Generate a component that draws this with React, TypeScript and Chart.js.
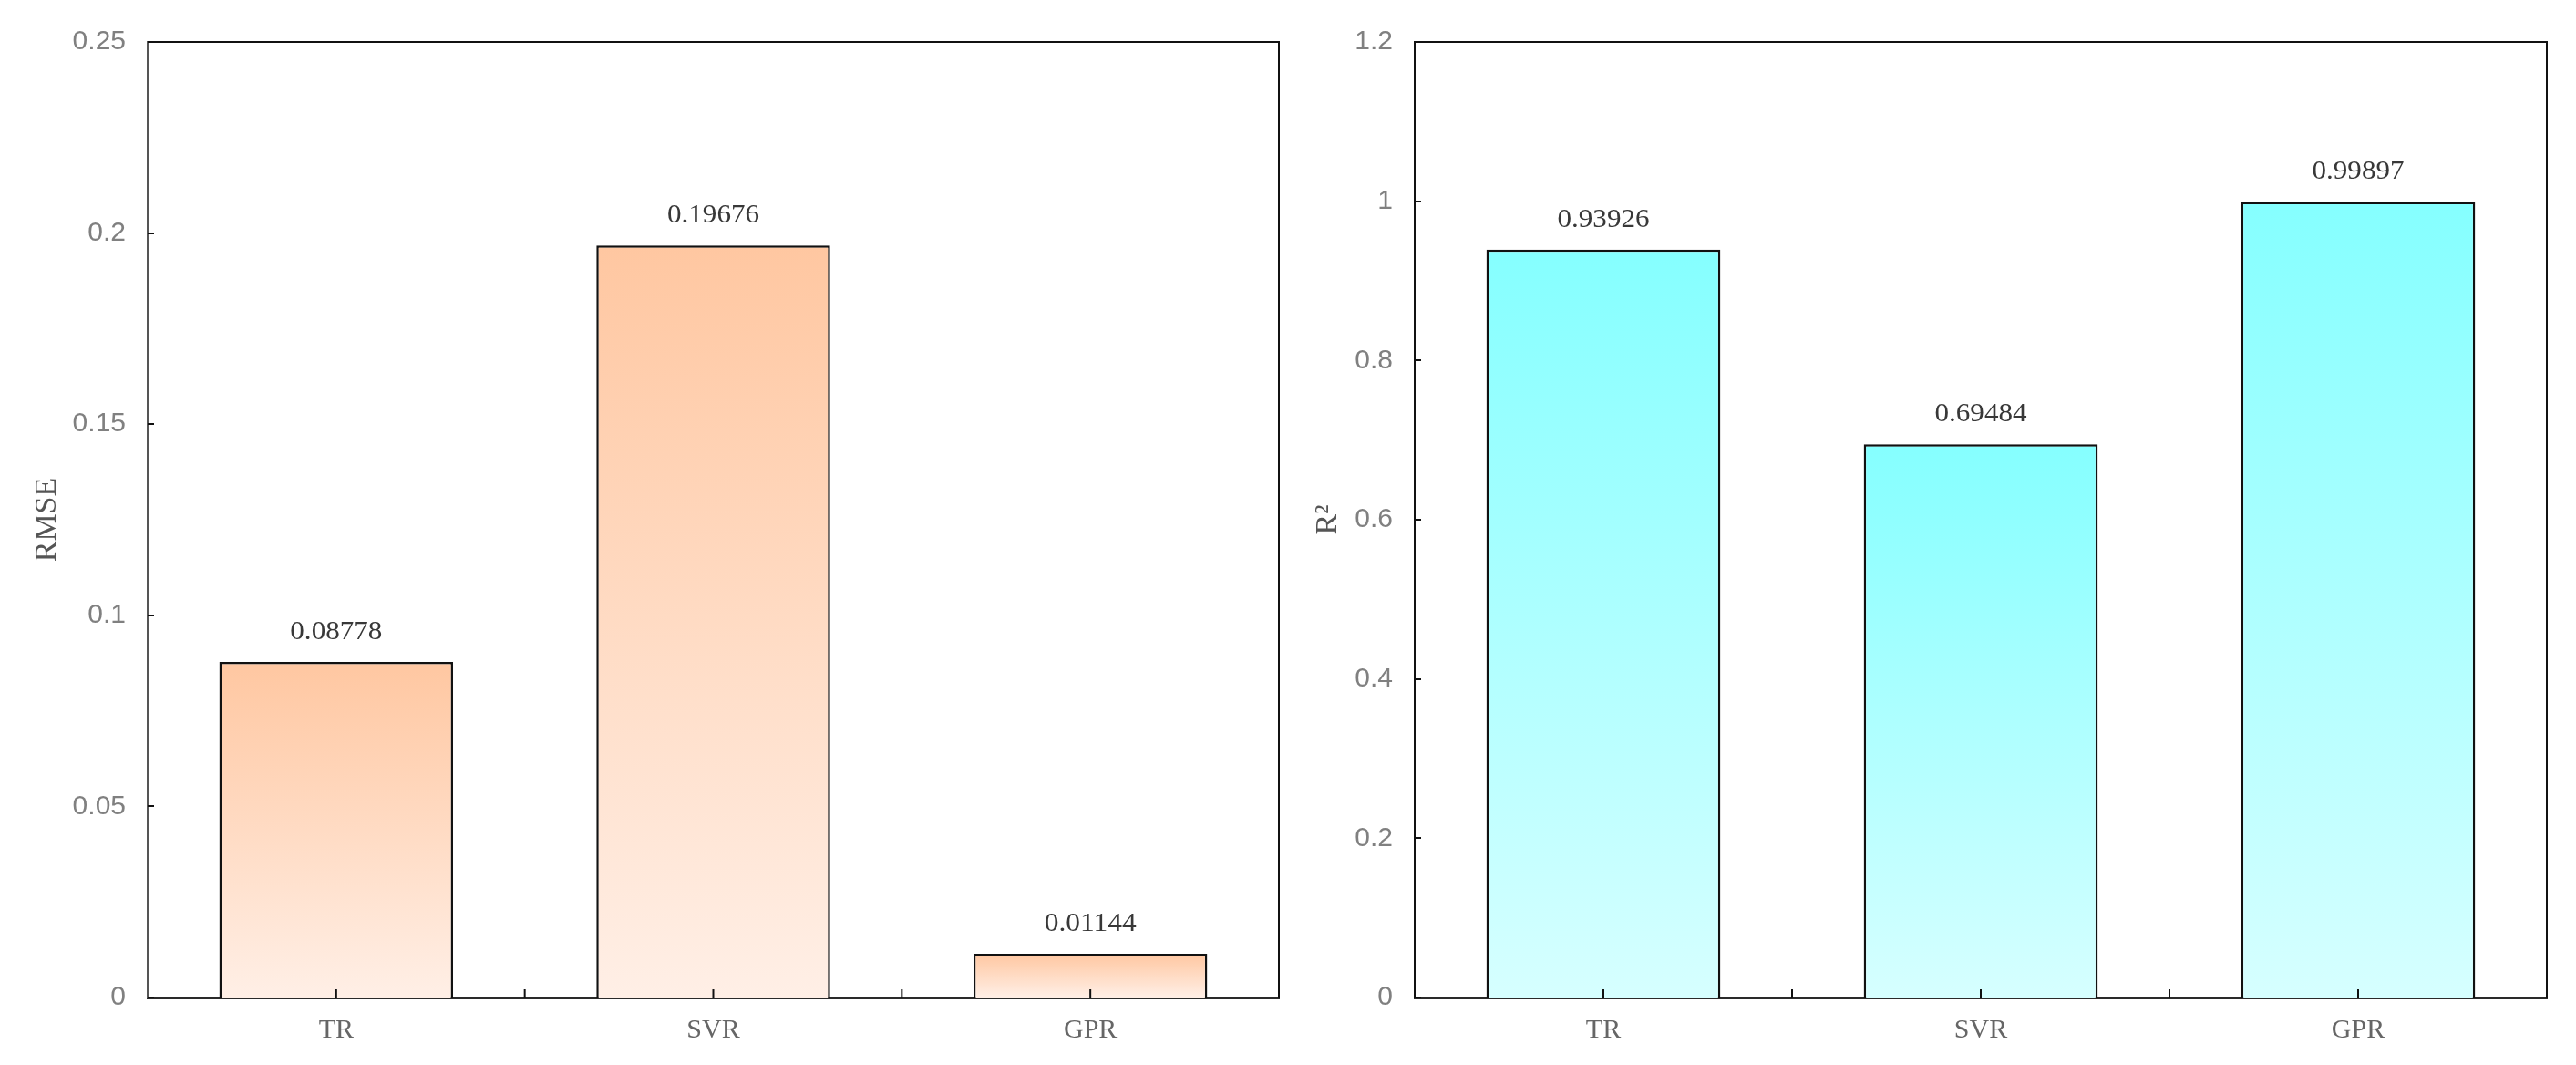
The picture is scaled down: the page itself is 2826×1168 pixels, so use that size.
import { useEffect, useRef } from "react"
import { Chart, registerables } from "chart.js"
import type { ChartConfiguration, Plugin } from "chart.js"

Chart.register(...registerables)

// data
const models = ["TR", "SVR", "GPR"]
const rmseValues = [0.08778, 0.19676, 0.01144]
const r2Values = [0.93926, 0.69484, 0.99897]
const rmseTicks = ["0", "0.05", "0.1", "0.15", "0.2", "0.25"]
const r2Ticks = ["0", "0.2", "0.4", "0.6", "0.8", "1", "1.2"]

const SERIF = '"Liberation Serif", "Times New Roman", serif'
const SANS = '"Liberation Sans", Arial, sans-serif'

interface Panel {
  title: string
  values: number[]
  ticks: string[]
  max: number
  step: number
  top: string
  bottom: string
  axisWidth: number
  titlePad: number
  rightPad: number
  leftAxisColor: string
}

const rmsePanel: Panel = {
  title: "RMSE",
  values: rmseValues,
  ticks: rmseTicks,
  max: 0.25,
  step: 0.05,
  top: "#FFC7A1",
  bottom: "#FFEFE6",
  axisWidth: 162,
  titlePad: 32,
  rightPad: 10,
  leftAxisColor: "#555",
}

const r2Panel: Panel = {
  title: "R²",
  values: r2Values,
  ticks: r2Ticks,
  max: 1.2,
  step: 0.2,
  top: "#85FFFF",
  bottom: "#D6FFFF",
  axisWidth: 139,
  titlePad: 24,
  rightPad: 32,
  leftAxisColor: "#111",
}

// top/right frame and the small inward tick marks
const framePlugin: Plugin<"bar"> = {
  id: "frame",
  afterDraw(chart) {
    const { ctx, chartArea: a, scales } = chart
    ctx.save()
    ctx.strokeStyle = "#111"
    ctx.lineWidth = 2
    ctx.beginPath()
    ctx.moveTo(a.left, a.top)
    ctx.lineTo(a.right, a.top)
    ctx.lineTo(a.right, a.bottom)
    ctx.stroke()

    const y = scales.y
    ctx.beginPath()
    y.ticks.forEach((t) => {
      const py = Math.round(y.getPixelForValue(t.value))
      ctx.moveTo(a.left, py)
      ctx.lineTo(a.left + 7, py)
    })
    const x = scales.x
    const n = models.length
    for (let i = 0; i < n; i++) {
      const cx = x.getPixelForValue(i)
      ctx.moveTo(cx, a.bottom)
      ctx.lineTo(cx, a.bottom - 9)
      if (i < n - 1) {
        const bx = (cx + x.getPixelForValue(i + 1)) / 2
        ctx.moveTo(bx, a.bottom)
        ctx.lineTo(bx, a.bottom - 9)
      }
    }
    ctx.stroke()
    ctx.restore()
  },
}

// value above each bar; the figure uses a narrow serif, so squeeze it to width
function valueLabels(values: number[]): Plugin<"bar"> {
  return {
    id: "valueLabels",
    afterDatasetsDraw(chart) {
      const meta = chart.getDatasetMeta(0)
      const ctx = chart.ctx
      ctx.save()
      ctx.fillStyle = "#383838"
      ctx.font = `30px ${SERIF}`
      ctx.textAlign = "center"
      ctx.textBaseline = "middle"
      meta.data.forEach((bar, i) => {
        const text = values[i].toFixed(5)
        const w = ctx.measureText(text).width || 1
        ctx.save()
        ctx.translate(bar.x, bar.y - 33)
        ctx.scale(101 / w, 1)
        ctx.fillText(text, 0, 0)
        ctx.restore()
      })
      ctx.restore()
    },
  }
}

function makeConfig(p: Panel): ChartConfiguration<"bar"> {
  return {
    type: "bar",
    data: {
      labels: models,
      datasets: [
        {
          data: p.values,
          backgroundColor: (c) => {
            const chart = c.chart
            if (c.type !== "data" || !chart.chartArea) return p.top
            const y = chart.scales.y
            const g = chart.ctx.createLinearGradient(
              0,
              y.getPixelForValue(c.raw as number),
              0,
              y.getPixelForValue(0)
            )
            g.addColorStop(0, p.top)
            g.addColorStop(1, p.bottom)
            return g
          },
          borderColor: "#111",
          borderWidth: 2.5,
          categoryPercentage: 1,
          barPercentage: 0.62,
        },
      ],
    },
    options: {
      responsive: false,
      animation: false,
      devicePixelRatio: 1,
      layout: { padding: { top: 46, right: p.rightPad, left: 0, bottom: 0 } },
      plugins: {
        legend: { display: false },
        tooltip: { enabled: false },
      },
      scales: {
        x: {
          grid: { display: false, drawTicks: false },
          border: { display: true, color: "#2a2a2a", width: 3 },
          ticks: {
            color: "#666",
            font: { family: SERIF, size: 30 },
            padding: 18,
          },
          afterFit: (s) => {
            s.height = 74
          },
        },
        y: {
          min: 0,
          max: p.max,
          grid: { display: false, drawTicks: false },
          border: { display: true, color: p.leftAxisColor, width: 2 },
          ticks: {
            stepSize: p.step,
            color: "#808080",
            font: { family: SANS, size: 30 },
            padding: 24,
            callback: (_v, i) => p.ticks[i],
          },
          title: {
            display: true,
            text: p.title,
            color: "#555",
            font: { family: SERIF, size: 34 },
            padding: { top: p.titlePad, bottom: 0 },
          },
          afterFit: (s) => {
            s.width = p.axisWidth
          },
        },
      },
    },
    plugins: [framePlugin, valueLabels(p.values)],
  }
}

function BarPanel({ panel }: { panel: Panel }) {
  const chartRef = useRef<HTMLCanvasElement>(null)
  const chartInstance = useRef<Chart<"bar"> | null>(null)

  useEffect(() => {
    if (!chartRef.current) return
    if (chartInstance.current) {
      chartInstance.current.destroy()
    }
    chartInstance.current = new Chart(chartRef.current, makeConfig(panel))
    return () => {
      if (chartInstance.current) {
        chartInstance.current.destroy()
        chartInstance.current = null
      }
    }
  }, [panel])

  return <canvas ref={chartRef} width={1413} height={1168} style={{ display: "block" }} />
}

export default function App() {
  return (
    <div
      style={{
        position: "fixed",
        top: 0,
        left: 0,
        width: 2826,
        height: 1168,
        background: "#fff",
        display: "flex",
      }}
    >
      <BarPanel panel={rmsePanel} />
      <BarPanel panel={r2Panel} />
    </div>
  )
}
